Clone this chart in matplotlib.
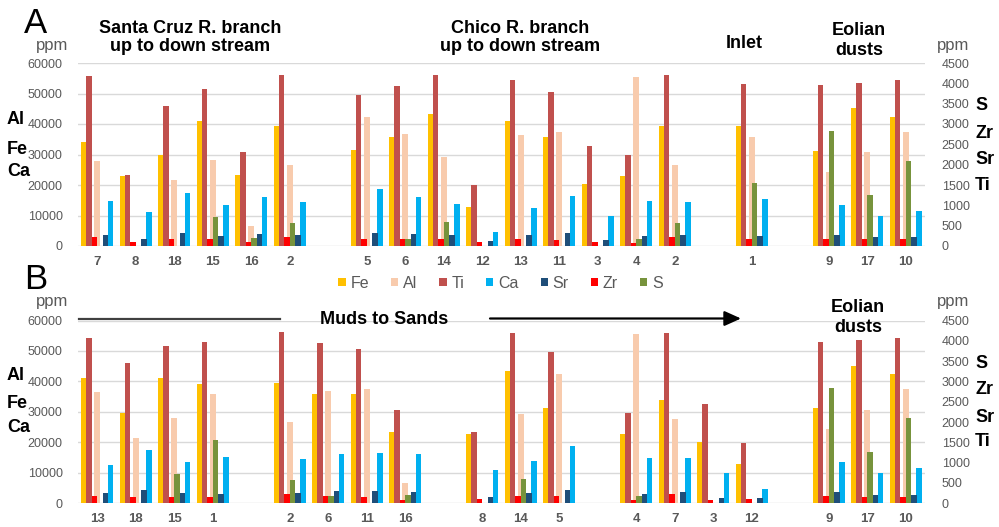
import matplotlib
matplotlib.use('Agg')
import matplotlib.pyplot as plt
from matplotlib.patches import Patch, FancyArrowPatch
from matplotlib.lines import Line2D

plt.rcParams['font.family'] = ['Liberation Sans', 'DejaVu Sans']

# ---- data (ppm) ----
samples = ['7', '8', '18', '15', '16', '2', '5', '6', '14', '12', '13', '11', '3', '4', '1', '9', '17', '10']
fe = [34000, 22900, 29700, 41000, 23400, 39400, 31400, 35900, 43400, 12800, 41000, 35800, 20200, 22800, 39200, 31300, 45100, 42300]
al = [27800, 0, 21500, 28100, 6600, 26700, 42400, 36700, 29200, 0, 36500, 37500, 0, 55500, 35900, 24300, 30700, 37500]
ca = [14800, 11000, 17400, 13400, 16200, 14400, 18800, 16100, 13800, 4600, 12500, 16400, 9800, 14800, 15300, 13600, 10000, 11500]
ti = [4180, 1750, 3450, 3870, 2300, 4210, 3720, 3940, 4200, 1490, 4070, 3790, 2450, 2230, 3980, 3960, 4020, 4070]
zr = [230, 110, 160, 160, 90, 230, 180, 170, 170, 100, 180, 155, 90, 75, 165, 180, 165, 165]
s_ = [0, 0, 0, 710, 200, 575, 0, 170, 600, 0, 0, 0, 0, 170, 1550, 2840, 1260, 2100]
sr = [270, 160, 320, 255, 290, 265, 320, 305, 265, 125, 265, 310, 140, 240, 240, 280, 215, 215]

order_a = ['7', '8', '18', '15', '16', '2', '', '5', '6', '14', '12', '13', '11', '3', '4', '2', '', '1', '', '9', '17', '10']
order_b = ['13', '18', '15', '1', '', '2', '6', '11', '16', '', '8', '14', '5', '', '4', '7', '3', '12', '', '9', '17', '10']

left_ticks = [0, 10000, 20000, 30000, 40000, 50000, 60000]
right_ticks = [0, 500, 1000, 1500, 2000, 2500, 3000, 3500, 4000, 4500]

colors = {'Fe': '#FFC000', 'Al': '#F8CBAD', 'Ti': '#C0504D', 'Ca': '#00B0F0',
          'Sr': '#1F4E79', 'Zr': '#FF0000', 'S': '#77933C'}

W, H = 999, 527
fig = plt.figure(figsize=(W / 100, H / 100), dpi=100)


def fx(x):
    return x / W


def fy(y):
    return 1 - y / H


GRAY = '#595959'


def panel(top, bottom, order):
    ax = fig.add_axes([fx(78), fy(bottom), fx(925) - fx(78), fy(top) - fy(bottom)])
    ax2 = ax.twinx()
    pos = [i for i, s in enumerate(order) if s]
    idx = [samples.index(order[i]) for i in pos]
    prim = [(fe, 'Fe', -0.345), (al, 'Al', 0.0), (ca, 'Ca', 0.345)]
    sec = [(ti, 'Ti', -0.21), (zr, 'Zr', -0.07), (s_, 'S', 0.07), (sr, 'Sr', 0.21)]
    for vals, name, off in prim:
        ax.bar([p + off for p in pos], [vals[k] for k in idx], width=0.145,
               color=colors[name], zorder=2)
    for vals, name, off in sec:
        ax2.bar([p + off for p in pos], [vals[k] for k in idx], width=0.14,
                color=colors[name], zorder=2)
    ax.set_xlim(-0.5, len(order) - 0.5)
    ax.set_ylim(0, 60000)
    ax2.set_ylim(0, 4500)
    ax.set_yticks(left_ticks)
    ax.set_yticklabels([str(t) for t in left_ticks])
    ax2.set_yticks(right_ticks)
    ax2.set_yticklabels([str(t) for t in right_ticks])
    ax.set_xticks(range(len(order)))
    ax.set_xticklabels(order, fontweight='bold')
    for a in (ax, ax2):
        for sp in a.spines.values():
            sp.set_visible(False)
    ax.grid(axis='y', color='#D9D9D9', linewidth=1.0, zorder=0)
    ax.set_axisbelow(True)
    ax.tick_params(axis='y', length=0, pad=11, labelsize=9, labelcolor=GRAY)
    ax.tick_params(axis='x', length=0, pad=7, labelsize=9.5, labelcolor=GRAY)
    ax2.tick_params(axis='y', length=0, pad=12, labelsize=9, labelcolor=GRAY)
    return ax, ax2


panel(63, 246, order_a)
panel(320.5, 503.3, order_b)

# ---- texts ----
def t(x, y, s, **kw):
    fig.text(fx(x), fy(y), s, **kw)


t(24, 33, 'A', fontsize=25, va='baseline', ha='left')
t(24, 289, 'B', fontsize=25, va='baseline', ha='left')
for yb in (50, 306):
    t(68, yb, 'ppm', fontsize=12, va='baseline', ha='right', color=GRAY)
    t(937, yb, 'ppm', fontsize=12, va='baseline', ha='left', color=GRAY)

tb = dict(fontsize=13, fontweight='bold', ha='center', va='baseline')
t(190, 33, 'Santa Cruz R. branch', **tb)
t(190, 51, 'up to down stream', **tb)
t(520, 33, 'Chico R. branch', **tb)
t(520, 51, 'up to down stream', **tb)
t(744, 48, 'Inlet', **tb)
t(859, 35, 'Eolian', **tb)
t(859, 55, 'dusts', **tb)
t(384, 324.5, 'Muds to Sands', **tb)
t(858, 312, 'Eolian', **tb)
t(858, 332, 'dusts', **tb)

lb = dict(fontsize=13, fontweight='bold', ha='left', va='center')
for ys_l, ys_r in [((119, 149, 172), (106, 134, 160, 185)),
                   ((376, 404, 428), (363, 389, 417, 442))]:
    for y, s in zip(ys_l, ['Al', 'Fe', 'Ca']):
        t(7, y, s, **lb)
    for y, s in zip(ys_r, ['S', 'Zr', 'Sr', 'Ti']):
        t(975, y, s, **lb)

# arrow in panel B
fig.add_artist(Line2D([fx(79), fx(280)], [fy(318.5), fy(318.5)], color='#404040', linewidth=1.6))
fig.add_artist(FancyArrowPatch((fx(490), fy(318.5)), (fx(741), fy(318.5)),
                               transform=fig.transFigure, arrowstyle='-|>,head_length=10,head_width=4.5',
                               mutation_scale=1, color='#000000', linewidth=1.6, shrinkA=0, shrinkB=0))

# legend
names = ['Fe', 'Al', 'Ti', 'Ca', 'Sr', 'Zr', 'S']
handles = [Patch(facecolor=colors[n], edgecolor='none') for n in names]
fig.legend(handles, names, loc='center', bbox_to_anchor=(0.501, fy(283)), ncol=7,
           frameon=False, fontsize=11.5, handlelength=0.45, handleheight=0.45,
           handletextpad=0.3, columnspacing=1.38, labelcolor=GRAY)

fig.savefig('out.png', dpi=100)
